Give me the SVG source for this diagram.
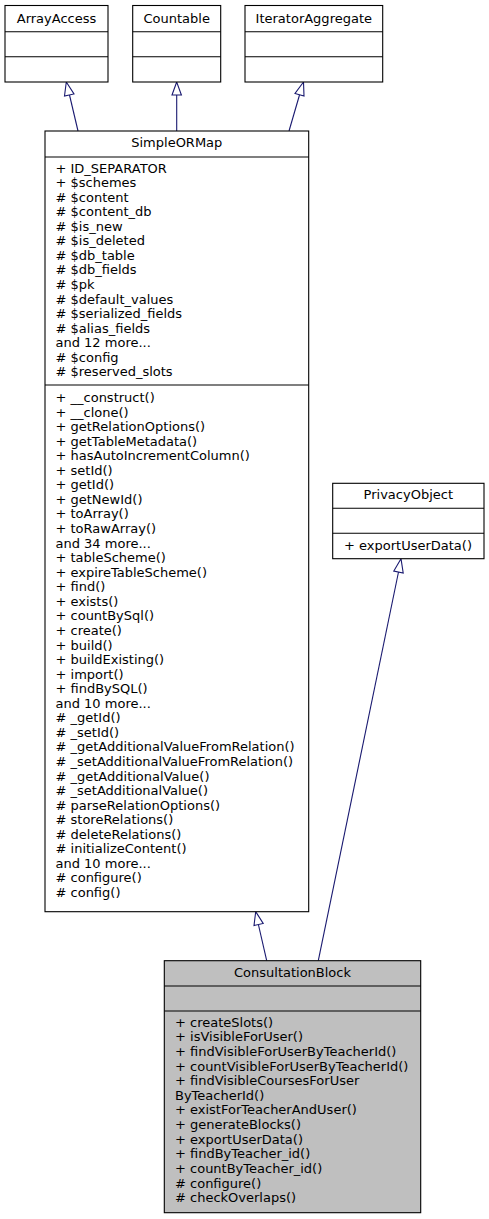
<svg xmlns="http://www.w3.org/2000/svg" width="489" height="1219" viewBox="0 0 489 1219">
<style>
text{font-family:"DejaVu Sans","Liberation Sans",sans-serif;font-size:13px;fill:#000}
.t{text-anchor:middle}
.box{fill:#fff;stroke:#000;stroke-width:1.1}
.cur{fill:#bfbfbf;stroke:#000;stroke-width:1.1}
.div{stroke:#000;stroke-width:1.1}
.edge{stroke:#191970;stroke-width:1.1;fill:none}
.ah{fill:#fff;stroke:#191970;stroke-width:1.1}
</style>
<rect width="489" height="1219" fill="#fff"/>
<g id="connectors">
<line class="edge" x1="78" y1="131" x2="69.5" y2="95"/>
<polygon class="ah" points="66.3,82 64.5,96 74,94"/>
<line class="edge" x1="176.7" y1="131" x2="176.7" y2="95"/>
<polygon class="ah" points="176.7,82 172,95 181.4,95"/>
<line class="edge" x1="289" y1="131" x2="299.5" y2="95"/>
<polygon class="ah" points="303.5,82 295,93.5 304,96"/>
<line class="edge" x1="266.7" y1="960.7" x2="258.5" y2="925"/>
<polygon class="ah" points="255.7,911.7 254,925.5 263.2,923.5"/>
<line class="edge" x1="318.3" y1="960.7" x2="398.5" y2="572"/>
<polygon class="ah" points="401,558.7 393.8,571 403.2,573"/>
</g>
<g id="ArrayAccess">
<rect class="box" x="5" y="5.5" width="103" height="76.5"/>
<line class="div" x1="5" y1="31.7" x2="108" y2="31.7"/>
<line class="div" x1="5" y1="56.7" x2="108" y2="56.7"/>
<text class="t" x="56.5" y="23">ArrayAccess</text>
</g>
<g id="Countable">
<rect class="box" x="132.7" y="5.5" width="88" height="76.5"/>
<line class="div" x1="132.7" y1="31.7" x2="220.7" y2="31.7"/>
<line class="div" x1="132.7" y1="56.7" x2="220.7" y2="56.7"/>
<text class="t" x="176.7" y="23">Countable</text>
</g>
<g id="IteratorAggregate">
<rect class="box" x="245" y="5.5" width="137.7" height="76.5"/>
<line class="div" x1="245" y1="31.7" x2="382.7" y2="31.7"/>
<line class="div" x1="245" y1="56.7" x2="382.7" y2="56.7"/>
<text class="t" x="313.8" y="23">IteratorAggregate</text>
</g>
<g id="SimpleORMap">
<rect class="box" x="45" y="131" width="263.7" height="780.7"/>
<line class="div" x1="45" y1="157" x2="308.7" y2="157"/>
<line class="div" x1="45" y1="385" x2="308.7" y2="385"/>
<text class="t" x="176.8" y="146.7">SimpleORMap</text>
<text x="55.5">
<tspan x="55.5" y="172.5">+ ID_SEPARATOR</tspan>
<tspan x="55.5" y="187.06">+ $schemes</tspan>
<tspan x="55.5" y="201.62"># $content</tspan>
<tspan x="55.5" y="216.18"># $content_db</tspan>
<tspan x="55.5" y="230.74"># $is_new</tspan>
<tspan x="55.5" y="245.3"># $is_deleted</tspan>
<tspan x="55.5" y="259.86"># $db_table</tspan>
<tspan x="55.5" y="274.42"># $db_fields</tspan>
<tspan x="55.5" y="288.98"># $pk</tspan>
<tspan x="55.5" y="303.54"># $default_values</tspan>
<tspan x="55.5" y="318.1"># $serialized_fields</tspan>
<tspan x="55.5" y="332.66"># $alias_fields</tspan>
<tspan x="55.5" y="347.22">and 12 more...</tspan>
<tspan x="55.5" y="361.78"># $config</tspan>
<tspan x="55.5" y="376.34"># $reserved_slots</tspan>
</text>
<text x="55.5">
<tspan x="55.5" y="402">+ __construct()</tspan>
<tspan x="55.5" y="416.56">+ __clone()</tspan>
<tspan x="55.5" y="431.12">+ getRelationOptions()</tspan>
<tspan x="55.5" y="445.68">+ getTableMetadata()</tspan>
<tspan x="55.5" y="460.24">+ hasAutoIncrementColumn()</tspan>
<tspan x="55.5" y="474.8">+ setId()</tspan>
<tspan x="55.5" y="489.36">+ getId()</tspan>
<tspan x="55.5" y="503.92">+ getNewId()</tspan>
<tspan x="55.5" y="518.48">+ toArray()</tspan>
<tspan x="55.5" y="533.04">+ toRawArray()</tspan>
<tspan x="55.5" y="547.6">and 34 more...</tspan>
<tspan x="55.5" y="562.16">+ tableScheme()</tspan>
<tspan x="55.5" y="576.72">+ expireTableScheme()</tspan>
<tspan x="55.5" y="591.28">+ find()</tspan>
<tspan x="55.5" y="605.84">+ exists()</tspan>
<tspan x="55.5" y="620.4">+ countBySql()</tspan>
<tspan x="55.5" y="634.96">+ create()</tspan>
<tspan x="55.5" y="649.52">+ build()</tspan>
<tspan x="55.5" y="664.08">+ buildExisting()</tspan>
<tspan x="55.5" y="678.64">+ import()</tspan>
<tspan x="55.5" y="693.2">+ findBySQL()</tspan>
<tspan x="55.5" y="707.76">and 10 more...</tspan>
<tspan x="55.5" y="722.32"># _getId()</tspan>
<tspan x="55.5" y="736.88"># _setId()</tspan>
<tspan x="55.5" y="751.44"># _getAdditionalValueFromRelation()</tspan>
<tspan x="55.5" y="766"># _setAdditionalValueFromRelation()</tspan>
<tspan x="55.5" y="780.56"># _getAdditionalValue()</tspan>
<tspan x="55.5" y="795.12"># _setAdditionalValue()</tspan>
<tspan x="55.5" y="809.68"># parseRelationOptions()</tspan>
<tspan x="55.5" y="824.24"># storeRelations()</tspan>
<tspan x="55.5" y="838.8"># deleteRelations()</tspan>
<tspan x="55.5" y="853.36"># initializeContent()</tspan>
<tspan x="55.5" y="867.92">and 10 more...</tspan>
<tspan x="55.5" y="882.48"># configure()</tspan>
<tspan x="55.5" y="897.04"># config()</tspan>
</text>
</g>
<g id="PrivacyObject">
<rect class="box" x="332.7" y="483.3" width="151.3" height="75.4"/>
<line class="div" x1="332.7" y1="508.3" x2="484" y2="508.3"/>
<line class="div" x1="332.7" y1="533.3" x2="484" y2="533.3"/>
<text class="t" x="408.3" y="498.5">PrivacyObject</text>
<text x="344" y="550">+ exportUserData()</text>
</g>
<g id="ConsultationBlock">
<rect class="cur" x="164.3" y="960.7" width="256.4" height="252"/>
<line class="div" x1="164.3" y1="986" x2="420.7" y2="986"/>
<line class="div" x1="164.3" y1="1011" x2="420.7" y2="1011"/>
<text class="t" x="292.5" y="976.5">ConsultationBlock</text>
<text x="175">
<tspan x="175" y="1026.7">+ createSlots()</tspan>
<tspan x="175" y="1041.33">+ isVisibleForUser()</tspan>
<tspan x="175" y="1055.96">+ findVisibleForUserByTeacherId()</tspan>
<tspan x="175" y="1070.59">+ countVisibleForUserByTeacherId()</tspan>
<tspan x="175" y="1085.22">+ findVisibleCoursesForUser</tspan>
<tspan x="175" y="1099.85">ByTeacherId()</tspan>
<tspan x="175" y="1114.48">+ existForTeacherAndUser()</tspan>
<tspan x="175" y="1129.11">+ generateBlocks()</tspan>
<tspan x="175" y="1143.74">+ exportUserData()</tspan>
<tspan x="175" y="1158.37">+ findByTeacher_id()</tspan>
<tspan x="175" y="1173">+ countByTeacher_id()</tspan>
<tspan x="175" y="1187.63"># configure()</tspan>
<tspan x="175" y="1202.26"># checkOverlaps()</tspan>
</text>
</g>
</svg>
